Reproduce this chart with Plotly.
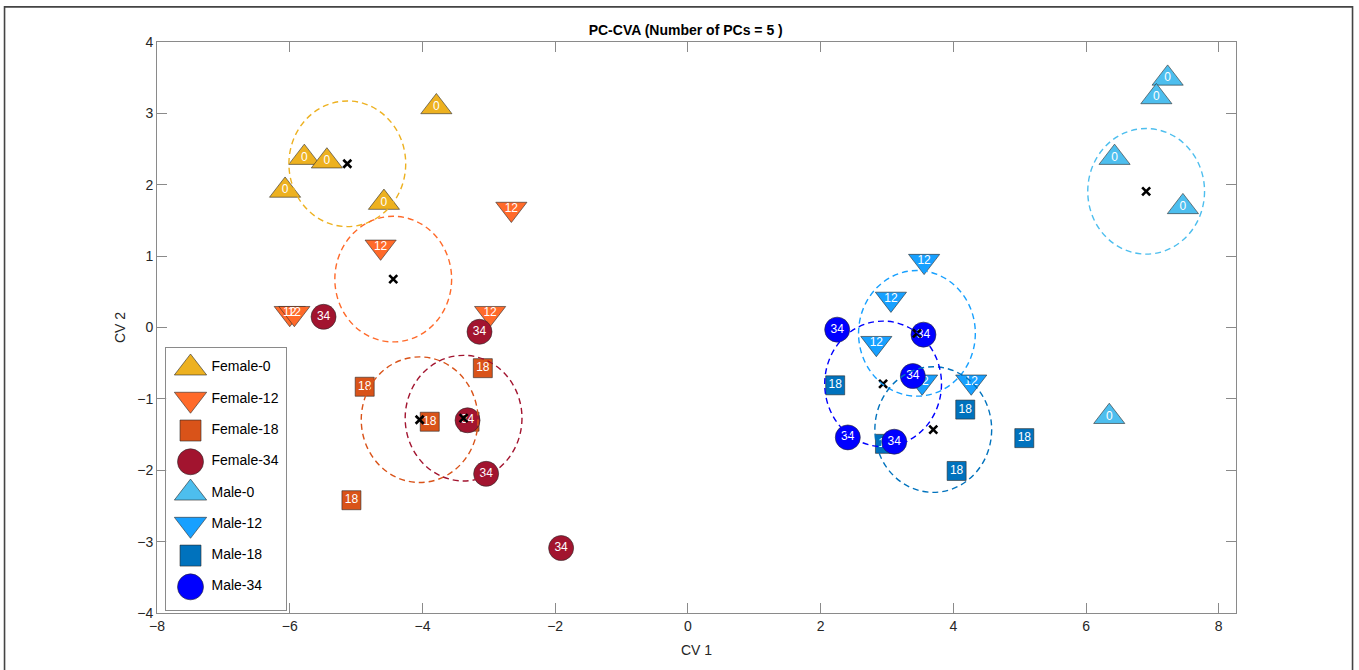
import numpy as np
import plotly.graph_objects as go

# ---------------- data ----------------
groups = ["Female-0", "Female-12", "Female-18", "Female-34",
          "Male-0", "Male-12", "Male-18", "Male-34"]
age_labels = ["0", "12", "18", "34", "0", "12", "18", "34"]

female0_x = [-3.79, -5.78, -5.44, -6.07, -4.58]
female0_y = [3.09, 2.38, 2.33, 1.92, 1.75]
female12_x = [-2.66, -4.63, -6.00, -5.93, -2.98]
female12_y = [1.66, 1.13, 0.20, 0.20, 0.20]
female18_x = [-3.09, -4.87, -3.89, -3.29, -5.07]
female18_y = [-0.57, -0.83, -1.32, -1.32, -2.42]
female34_x = [-5.49, -3.14, -3.32, -3.04, -1.91]
female34_y = [0.15, -0.06, -1.30, -2.05, -3.09]
male0_x = [7.23, 7.06, 6.43, 7.46, 6.35]
male0_y = [3.49, 3.23, 2.38, 1.69, -1.25]
male12_x = [3.56, 3.06, 2.84, 3.53, 4.27]
male12_y = [0.93, 0.40, -0.22, -0.76, -0.76]
male18_x = [2.22, 4.18, 5.07, 4.05, 2.97]
male18_y = [-0.81, -1.15, -1.55, -2.01, -1.63]
male34_x = [2.25, 3.55, 3.39, 2.41, 3.11]
male34_y = [-0.03, -0.10, -0.68, -1.54, -1.60]

circle_radius = [0.88, 0.88, 0.88, 0.88, 0.88, 0.88, 0.88, 0.88]

x_ticks = [-8, -6, -4, -2, 0, 2, 4, 6, 8]
y_ticks = [-4, -3, -2, -1, 0, 1, 2, 3, 4]

all_x = [female0_x, female12_x, female18_x, female34_x,
         male0_x, male12_x, male18_x, male34_x]
all_y = [female0_y, female12_y, female18_y, female34_y,
         male0_y, male12_y, male18_y, male34_y]

# ---------------- styles ----------------
colors = ["#EDB120", "#FF6A2A", "#D95319", "#A2142F",
          "#4DBEEE", "#17A0FF", "#0072BD", "#0000FF"]
symbols = ["triangle-up", "triangle-down", "square", "circle",
           "triangle-up", "triangle-down", "square", "circle"]
sizes = [27, 27, 19, 25, 27, 27, 19, 25]
legend_sizes = [28, 28, 21, 26, 28, 28, 21, 26]
FONT = "Liberation Sans, Arial, Helvetica, sans-serif"
EDGE = dict(color="rgba(40,40,40,0.85)", width=0.7)

fig = go.Figure()

for i, g in enumerate(groups):
    fig.add_trace(go.Scatter(
        x=all_x[i], y=all_y[i], mode="markers+text", name=g,
        text=[age_labels[i]] * len(all_x[i]), textposition="middle center",
        textfont=dict(family=FONT, size=12, color="white"),
        marker=dict(symbol=symbols[i], size=sizes[i], color=colors[i],
                    opacity=1, line=EDGE),
        showlegend=False, xaxis="x", yaxis="y"))

# group centroids and dashed circles
cx = [float(np.mean(v)) for v in all_x]
cy = [float(np.mean(v)) for v in all_y]
for i in range(len(groups)):
    r = circle_radius[i]
    fig.add_shape(type="circle", xref="x", yref="y",
                  x0=cx[i] - r, x1=cx[i] + r, y0=cy[i] - r, y1=cy[i] + r,
                  line=dict(color=colors[i], width=1.4, dash="6px,4px"),
                  layer="above")
fig.add_trace(go.Scatter(
    x=cx, y=cy, mode="markers", showlegend=False,
    marker=dict(symbol="x-thin", size=8, color="black", opacity=1,
                line=dict(color="black", width=2.6)),
    xaxis="x", yaxis="y"))

# custom legend (drawn in its own small axes so the symbols keep their size)
leg_pos = [-k for k in range(len(groups))]
fig.add_trace(go.Scatter(
    x=[0.204] * len(groups), y=leg_pos, mode="markers", showlegend=False,
    marker=dict(symbol=symbols, size=legend_sizes, color=colors,
                opacity=1, line=EDGE),
    xaxis="x2", yaxis="y2", hoverinfo="skip"))
fig.add_trace(go.Scatter(
    x=[0.38] * len(groups), y=leg_pos, mode="text", text=groups,
    textposition="middle right", showlegend=False,
    textfont=dict(family=FONT, size=14, color="black"),
    xaxis="x2", yaxis="y2", hoverinfo="skip"))

# outer figure frame
fig.add_shape(type="rect", xref="paper", yref="paper",
              x0=-0.1413, x1=1.108, y0=-0.11, y1=1.0616,
              line=dict(color="#444444", width=1.6), layer="above")

axis_line = "#8a8a8a"
fig.update_layout(
    width=1359, height=670,
    margin=dict(l=156.5, r=123.3, t=41.7, b=56.7, autoexpand=False),
    plot_bgcolor="white", paper_bgcolor="white",
    showlegend=False,
    font=dict(family=FONT, size=14, color="#262626"),
    title=dict(text="<b>PC-CVA (Number of PCs = 5 )</b>",
               font=dict(family=FONT, size=14, color="black"),
               x=0.49, xref="paper", xanchor="center",
               y=1 - 30 / 670, yref="container", yanchor="middle"),
    xaxis=dict(range=[-8, 8.26], tickvals=x_ticks, ticks="inside", ticklen=10,
               tickcolor=axis_line, showline=True, linecolor=axis_line,
               linewidth=1, mirror="ticks", showgrid=False, zeroline=False,
               tickfont=dict(family=FONT, size=14, color="#262626"),
               title=dict(text="CV 1", standoff=12,
                          font=dict(family=FONT, size=14, color="#262626")),
               domain=[0, 1], anchor="y"),
    yaxis=dict(range=[-4, 4], tickvals=y_ticks, ticks="inside", ticklen=10,
               tickcolor=axis_line, showline=True, linecolor=axis_line,
               linewidth=1, mirror="ticks", showgrid=False, zeroline=False,
               tickfont=dict(family=FONT, size=14, color="#262626"),
               title=dict(text="CV 2", standoff=8,
                          font=dict(family=FONT, size=14, color="#262626")),
               domain=[0, 1], anchor="x"),
    xaxis2=dict(domain=[0.0085, 0.1191], range=[0, 1], anchor="y2",
                showline=True, mirror=True, linecolor="#8a8a8a", linewidth=1,
                showticklabels=False, ticks="", showgrid=False, zeroline=False,
                fixedrange=True),
    yaxis2=dict(domain=[0.0058, 0.4636], range=[-7.73, 0.63], anchor="x2",
                showline=True, mirror=True, linecolor="#8a8a8a", linewidth=1,
                showticklabels=False, ticks="", showgrid=False, zeroline=False,
                fixedrange=True),
)

fig.write_html("out.html", config={"displayModeBar": False},
               post_script="document.body.style.margin='0px';")
